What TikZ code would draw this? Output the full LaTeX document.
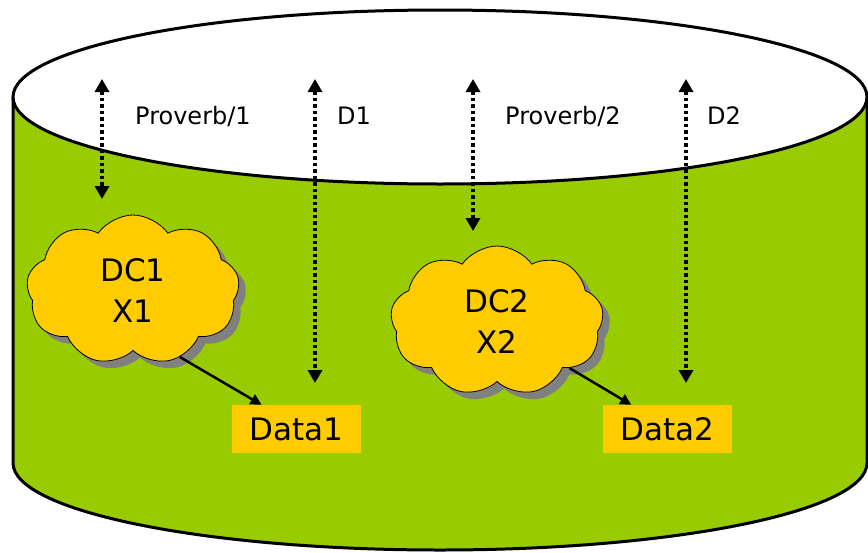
\documentclass[tikz,border=0pt]{standalone}
\usepackage{fontspec}
\setmainfont{DejaVu Sans}
\usetikzlibrary{shapes.symbols,shadows,arrows.meta,calc}
\definecolor{cylgreen}{HTML}{99CC00}
\definecolor{boxyellow}{HTML}{FFCC00}
\definecolor{shadowgray}{HTML}{808080}
\begin{document}
\begin{tikzpicture}[x=1pt,y=-1pt,
  dotarrow/.style={line width=3.5pt, dash pattern=on 3.5pt off 3pt,
    {Triangle[width=14pt,length=13pt]}-{Triangle[width=14pt,length=13pt]}},
  solidarrow/.style={line width=2.5pt, -{Triangle[width=11pt,length=11pt]}},
  lbl/.style={font=\fontsize{24}{28}\selectfont, anchor=west, inner sep=0pt},
  cloudnode/.style={cloud, cloud puffs=9, cloud puff arc=110, cloud ignores aspect,
    minimum width=213pt, minimum height=150pt, fill=boxyellow, draw=black, line width=0.8pt,
    font=\fontsize{31}{41}\selectfont, align=center,
    drop shadow={shadow xshift=7pt, shadow yshift=-7pt, fill=shadowgray, opacity=1}},
  databox/.style={fill=boxyellow, minimum width=129pt, minimum height=48pt, inner sep=0pt,
    font=\fontsize{31}{36}\selectfont}
]
\useasboundingbox (0,0) rectangle (868,552);
% cylinder body
\fill[cylgreen] (13,97) -- (13,463) arc[start angle=180, end angle=0, x radius=427, y radius=87]
  -- (867,97) arc[start angle=0, end angle=180, x radius=427, y radius=87] -- cycle;
\draw[line width=3pt] (13,97) -- (13,463) arc[start angle=180, end angle=0, x radius=427, y radius=87]
  -- (867,97);
% top ellipse
\draw[line width=3pt, fill=white] (440,97) ellipse[x radius=427, y radius=87];
% clouds
\node[cloudnode] (c1) at (133,290) {DC1\\X1};
\node[cloudnode] (c2) at (497,321) {DC2\\X2};
% data boxes
\node[databox] (d1) at (296.5,429) {Data1};
\node[databox] (d2) at (667.5,429) {Data2};
% labels
\node[lbl] (p1) at (135,116) {Proverb/1};
\node[lbl] (l1) at (337,116) {D1};
\node[lbl] (p2) at (505,116) {Proverb/2};
\node[lbl] (l2) at (707,116) {D2};
% dotted arrows
\coordinate (a1t) at (102,79); \coordinate (a1b) at (102,199);
\coordinate (a2t) at (315,79); \coordinate (a2b) at (315,383);
\coordinate (a3t) at (473,79); \coordinate (a3b) at (473,231);
\coordinate (a4t) at (686,79); \coordinate (a4b) at (686,383);
\draw[dotarrow] (a1t) -- (a1b);
\draw[dotarrow] (a2t) -- (a2b);
\draw[dotarrow] (a3t) -- (a3b);
\draw[dotarrow] (a4t) -- (a4b);
% solid arrows
\draw[solidarrow] (c1.-55) -- ($(d1.north west)!0.23!(d1.north east)$);
\draw[solidarrow] (c2.-33) -- ($(d2.north west)!0.22!(d2.north east)$);
\end{tikzpicture}
\end{document}
